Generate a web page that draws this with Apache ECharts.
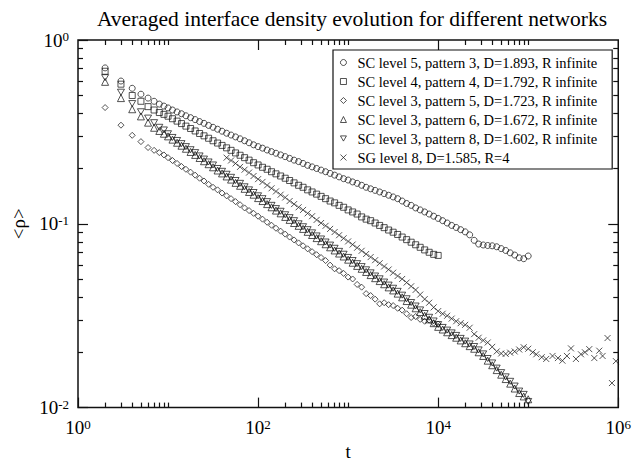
<!DOCTYPE html>
<html>
<head>
<meta charset="utf-8">
<script src="https://cdn.jsdelivr.net/npm/echarts@6/dist/echarts.min.js"></script>
<style>
  html, body { margin: 0; padding: 0; background: #fff; }
  #chart { width: 634px; height: 466px; }
</style>
</head>
<body>
<div id="chart"></div>
<script>
// time points (t) shared by the SC networks
var tMain = [2, 3, 4, 5, 6, 7, 8, 9,
  10, 11.2, 12.6, 14.1, 15.8, 17.8, 20, 22.4, 25.1, 28.2, 31.6, 35.5, 39.8, 44.7, 50.1, 56.2, 63.1, 70.8, 79.4, 89.1, 100,
  112, 126, 141, 158, 178, 200, 224, 251, 282, 316, 355, 398, 447, 501, 562, 631, 708, 794, 891, 1000,
  1122, 1259, 1413, 1585, 1778, 1995, 2239, 2512, 2818, 3162, 3548, 3981, 4467, 5012, 5623, 6310, 7079, 7943, 8913, 10000,
  11220, 12589, 14125, 15849, 17783, 19953, 22387, 25119, 28184, 31623, 35481, 39811, 44668, 50119, 56234, 63096, 70795, 79433, 89125, 100000];

// SC level 5, pattern 3
var rhoCircle = [0.705, 0.598, 0.546, 0.507, 0.483, 0.464, 0.448, 0.437,
  0.427, 0.416, 0.406, 0.397, 0.387, 0.378, 0.369, 0.360, 0.352, 0.343, 0.335, 0.327, 0.319, 0.311, 0.304, 0.297, 0.290, 0.283, 0.276, 0.269, 0.263,
  0.258, 0.252, 0.247, 0.242, 0.237, 0.232, 0.227, 0.222, 0.218, 0.213, 0.208, 0.204, 0.200, 0.196, 0.192, 0.188, 0.184, 0.180, 0.176, 0.173,
  0.169, 0.166, 0.162, 0.158, 0.155, 0.152, 0.149, 0.146, 0.143, 0.140, 0.137, 0.133, 0.129, 0.126, 0.122, 0.119, 0.116, 0.113, 0.110, 0.107,
  0.104, 0.101, 0.098, 0.0955, 0.0929, 0.0904, 0.0871, 0.0813, 0.0776, 0.0767, 0.0762, 0.0759, 0.075, 0.0733, 0.0716, 0.0695, 0.0676, 0.0653, 0.0646, 0.0668];

// SC level 4, pattern 4 (stops at t = 1e4)
var rhoSquare = [0.676, 0.575, 0.499, 0.464, 0.434, 0.416, 0.403, 0.394,
  0.385, 0.373, 0.362, 0.351, 0.340, 0.330, 0.320, 0.310, 0.301, 0.292, 0.283, 0.275, 0.267, 0.259, 0.251, 0.243, 0.236, 0.229, 0.222, 0.215, 0.209,
  0.203, 0.198, 0.192, 0.187, 0.182, 0.177, 0.172, 0.167, 0.162, 0.158, 0.153, 0.149, 0.145, 0.141, 0.137, 0.133, 0.130, 0.126, 0.123, 0.119,
  0.116, 0.113, 0.109, 0.106, 0.104, 0.101, 0.098, 0.0953, 0.0925, 0.0900, 0.0875, 0.0847, 0.0820, 0.0794, 0.0769, 0.0745, 0.0721, 0.0700, 0.0682, 0.0673];

// SC level 3, pattern 5 (stops at t = 1e4)
var rhoDiamond = [0.429, 0.344, 0.303, 0.280, 0.260, 0.251, 0.244, 0.237,
  0.229, 0.221, 0.213, 0.205, 0.198, 0.191, 0.184, 0.177, 0.171, 0.164, 0.158, 0.153, 0.147, 0.142, 0.137, 0.132, 0.127, 0.122, 0.118, 0.114, 0.110,
  0.106, 0.102, 0.0982, 0.0946, 0.0912, 0.0879, 0.0847, 0.0817, 0.0787, 0.0759, 0.0731, 0.0705, 0.0679, 0.0655, 0.0631, 0.0596, 0.0569, 0.0556, 0.0537, 0.0513,
  0.0501, 0.0468, 0.0452, 0.0417, 0.0407, 0.0389, 0.0367, 0.0372, 0.0363, 0.0359, 0.0347, 0.0339, 0.0324, 0.0309, 0.0313, 0.0302, 0.0295, 0.0299, 0.0288, 0.0285];

// SC level 3, pattern 6
var rhoTriUp = [0.592, 0.483, 0.420, 0.384, 0.355, 0.333, 0.320, 0.309,
  0.299, 0.287, 0.276, 0.266, 0.256, 0.246, 0.237, 0.228, 0.219, 0.211, 0.203, 0.195, 0.188, 0.181, 0.174, 0.167, 0.161, 0.155, 0.149, 0.144, 0.138,
  0.133, 0.128, 0.123, 0.118, 0.114, 0.109, 0.105, 0.101, 0.0975, 0.0938, 0.0904, 0.0869, 0.0836, 0.0804, 0.0774, 0.0745, 0.0716, 0.0689, 0.0664, 0.0638,
  0.0614, 0.0590, 0.0569, 0.0547, 0.0526, 0.0506, 0.0488, 0.0469, 0.0451, 0.0434, 0.0417, 0.0398, 0.0380, 0.0363, 0.0347, 0.0331, 0.0316, 0.0302, 0.0288, 0.0275,
  0.0266, 0.0257, 0.0248, 0.0240, 0.0232, 0.0224, 0.0216, 0.0209, 0.0200, 0.0191, 0.0180, 0.0170, 0.0160, 0.0151, 0.0143, 0.0135, 0.0127, 0.0120, 0.0115, 0.0111];

// SC level 3, pattern 8
var rhoTriDown = [0.624, 0.520, 0.451, 0.407, 0.376, 0.355, 0.335, 0.324,
  0.309, 0.295, 0.284, 0.273, 0.263, 0.253, 0.244, 0.234, 0.225, 0.217, 0.209, 0.200, 0.193, 0.186, 0.179, 0.172, 0.166, 0.159, 0.153, 0.148, 0.142,
  0.137, 0.132, 0.126, 0.121, 0.117, 0.112, 0.108, 0.104, 0.100, 0.0964, 0.0929, 0.0893, 0.0859, 0.0827, 0.0796, 0.0766, 0.0736, 0.0708, 0.0683, 0.0656,
  0.0631, 0.0607, 0.0585, 0.0562, 0.0541, 0.0520, 0.0502, 0.0482, 0.0464, 0.0446, 0.0429, 0.0409, 0.0391, 0.0373, 0.0357, 0.0340, 0.0325, 0.0310, 0.0296, 0.0283,
  0.0273, 0.0264, 0.0255, 0.0247, 0.0238, 0.0230, 0.0222, 0.0215, 0.0206, 0.0196, 0.0185, 0.0175, 0.0164, 0.0155, 0.0147, 0.0139, 0.0131, 0.0123, 0.0118, 0.0108];

// SG level 8, R=4 has its own time points
var tCross = [44.7, 50.1, 56.2, 63.1, 70.8, 79.4, 89.1, 100,
  112, 126, 141, 158, 178, 200, 224, 251, 282, 316, 355, 398, 447, 501, 562, 631, 708, 794, 891, 1000,
  1122, 1259, 1413, 1585, 1778, 1995, 2239, 2512, 2818, 3162, 3548, 3981, 4467, 5012, 5623, 6310, 7079, 7943, 8913, 10000,
  11220, 12589, 14125, 15849, 17783, 19953, 22387, 25119, 28184, 31623, 35481, 39811, 44668, 50119, 56234, 63096, 70795, 79433, 89125, 100000,
  112202, 123027, 141254, 158489, 186209, 213796, 239883, 269153, 298538, 338844, 385478, 426580, 476431, 542001, 615177, 669885, 760326, 851138, 941889];
var rhoCross = [0.229, 0.221, 0.213, 0.204, 0.197, 0.190, 0.182, 0.175,
  0.169, 0.162, 0.156, 0.150, 0.144, 0.139, 0.133, 0.128, 0.123, 0.119, 0.114, 0.110, 0.105, 0.101, 0.0975, 0.0938, 0.0902, 0.0867, 0.0834, 0.0802,
  0.0771, 0.0741, 0.0713, 0.0685, 0.0659, 0.0634, 0.0610, 0.0586, 0.0564, 0.0542, 0.0520, 0.0501, 0.0479, 0.0457, 0.0437, 0.0412, 0.0389, 0.0372, 0.0351, 0.0335,
  0.0324, 0.0316, 0.0305, 0.0295, 0.0288, 0.0282, 0.0272, 0.0251, 0.0240, 0.0232, 0.0226, 0.0214, 0.0202, 0.0197, 0.0196, 0.0199, 0.0202, 0.0207, 0.0213, 0.0209,
  0.0200, 0.0195, 0.0188, 0.0184, 0.0191, 0.0186, 0.0180, 0.0191, 0.0210, 0.0184, 0.0195, 0.0200, 0.0208, 0.0186, 0.0204, 0.0191, 0.0239, 0.0136, 0.0179];

var names = [
  'SC level 5, pattern 3, D=1.893, R infinite',
  'SC level 4, pattern 4, D=1.792, R infinite',
  'SC level 3, pattern 5, D=1.723, R infinite',
  'SC level 3, pattern 6, D=1.672, R infinite',
  'SC level 3, pattern 8, D=1.602, R infinite',
  'SG level 8, D=1.585, R=4'
];

// tick positions (drawn inside the frame, mirrored on the opposite side)
var xMajor = [100, 10000];
var xMinor = [2, 3, 4, 5, 6, 7, 8, 9, 10, 200, 300, 400, 500, 600, 700, 800, 900, 1000,
  20000, 30000, 40000, 50000, 60000, 70000, 80000, 90000, 100000];
var yMajor = [0.1];
var yMinor = [0.02, 0.03, 0.04, 0.05, 0.06, 0.07, 0.08, 0.09, 0.2, 0.3, 0.4, 0.5, 0.6, 0.7, 0.8, 0.9];

var serif = "'Liberation Serif', 'DejaVu Serif', serif";
var ink = '#111';

function pairs(ts, ys) {
  var out = [];
  for (var i = 0; i < ys.length; i++) out.push([ts[i], ys[i]]);
  return out;
}
function powLabel(v) {
  var e = Math.round(Math.log10(v));
  return '{b|10}{s|' + e + '}';
}
var labelRich = {
  b: { fontFamily: serif, fontSize: 19, color: '#000', lineHeight: 20 },
  s: { fontFamily: serif, fontSize: 13, color: '#000', lineHeight: 13, verticalAlign: 'top' }
};

var cross = 'path://M0,0L10,10M10,0L0,10';
var triDown = 'path://M0,0L10,0L5,8.66Z';
var symbols = ['circle', 'rect', 'diamond', 'triangle', triDown, cross];
var sizes = [6, 6, 6, 7, [7, 6], 6];
var dataSets = [
  pairs(tMain, rhoCircle),
  pairs(tMain, rhoSquare),
  pairs(tMain, rhoDiamond),
  pairs(tMain, rhoTriUp),
  pairs(tMain, rhoTriDown),
  pairs(tCross, rhoCross)
];
var hollow = { color: 'rgba(0,0,0,0)', borderColor: ink, borderWidth: 0.9 };

var series = [];
for (var i = 0; i < names.length; i++) {
  series.push({
    name: names[i],
    type: 'scatter',
    symbol: symbols[i],
    symbolSize: sizes[i],
    itemStyle: hollow,
    data: dataSets[i]
  });
}

var chart = echarts.init(document.getElementById('chart'), null, { renderer: 'svg' });
chart.setOption({
  animation: false,
  title: {
    text: 'Averaged interface density evolution for different networks',
    left: 347, top: 3, textAlign: 'center',
    textStyle: { fontFamily: serif, fontSize: 21.5, fontWeight: 'normal', color: '#000' }
  },
  grid: { left: 78, right: 15, top: 40, bottom: 48, containLabel: false,
    show: true, borderColor: ink, borderWidth: 1.5 },
  legend: {
    orient: 'vertical', left: 333, top: 50,
    padding: [3, 15, 2, 7],
    itemWidth: 6, itemHeight: 6, itemGap: 0,
    borderColor: ink, borderWidth: 1.2, backgroundColor: '#fff',
    itemStyle: hollow,
    textStyle: { fontFamily: serif, fontSize: 14.5, color: '#000', lineHeight: 19, padding: [0, 0, 0, 6] },
    selectedMode: false,
    data: names
  },
  xAxis: {
    type: 'log', logBase: 10, min: 1, max: 1000000, interval: 2,
    splitLine: { show: false },
    axisLine: { show: false },
    axisTick: { show: true, inside: true, length: 10, lineStyle: { color: ink, width: 1.2 } },
    axisLabel: { formatter: powLabel, rich: labelRich, margin: 10 },
    name: 't', nameLocation: 'middle', nameGap: 29,
    nameTextStyle: { fontFamily: serif, fontSize: 19, color: '#000' }
  },
  yAxis: {
    type: 'log', logBase: 10, min: 0.01, max: 1, interval: 1,
    splitLine: { show: false },
    axisLine: { show: false },
    axisTick: { show: true, inside: true, length: 10, lineStyle: { color: ink, width: 1.2 } },
    axisLabel: { formatter: powLabel, rich: labelRich, margin: 9 },
    name: '<ρ>', nameLocation: 'middle', nameGap: 50,
    nameTextStyle: { fontFamily: serif, fontSize: 19, color: '#000' }
  },
  series: series
});

// remaining inside ticks (minor ones, and the mirrored top / right majors), placed through the axis scales
try {
  var px = function (t, r) { return chart.convertToPixel({ xAxisIndex: 0, yAxisIndex: 0 }, [t, r]); };
  var lo = px(1, 0.01), hi = px(1000000, 1);
  var ticks = [];
  var tickLine = function (x1, y1, x2, y2) {
    ticks.push({ type: 'line', z: 50,
      shape: { x1: x1, y1: y1, x2: x2, y2: y2 },
      style: { stroke: ink, lineWidth: 1.2 } });
  };
  var xTicks = function (vals, len, both) {
    vals.forEach(function (v) {
      var x = Math.round(px(v, 0.01)[0]) + 0.5;
      if (both) tickLine(x, lo[1], x, lo[1] - len);
      tickLine(x, hi[1], x, hi[1] + len);
    });
  };
  var yTicks = function (vals, len, both) {
    vals.forEach(function (v) {
      var y = Math.round(px(1, v)[1]) + 0.5;
      if (both) tickLine(lo[0], y, lo[0] + len, y);
      tickLine(hi[0], y, hi[0] - len, y);
    });
  };
  xTicks(xMajor, 10, false);
  xTicks(xMinor, 5, true);
  yTicks(yMajor, 10, false);
  yTicks(yMinor, 5, true);
  chart.setOption({ graphic: ticks });
} catch (e) {
  // leave the chart as drawn if the tick overlay fails
}
</script>
</body>
</html>
